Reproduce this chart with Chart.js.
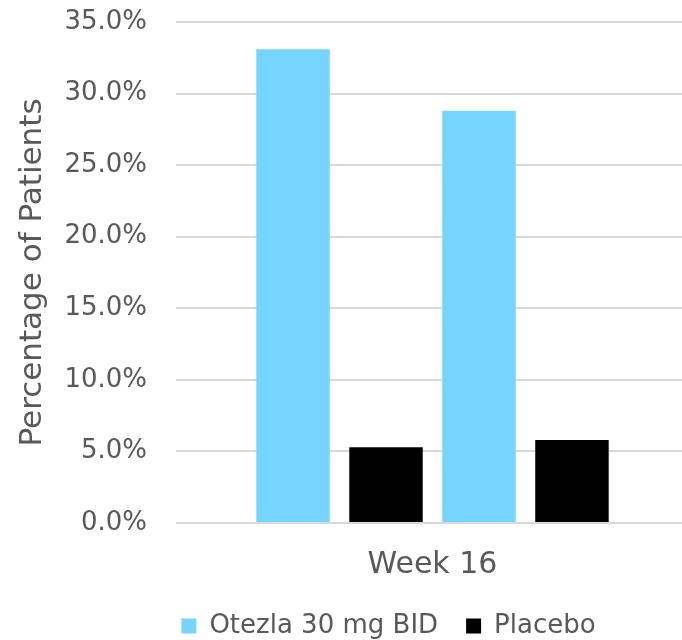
<!DOCTYPE html>
<html lang="en">
<head>
  <meta charset="UTF-8" />
  <title>Week 16 Response</title>
  <script src="https://cdn.jsdelivr.net/npm/chart.js"></script>
  <style>
    body {
      margin: 0;
      padding: 0;
      overflow: hidden;
      background: #fff;
    }

    /* slightly wider than the window so the plot runs off the right edge */
    .chart-container {
      width: 692px;
      height: 640px;
      position: relative;
    }
  </style>
</head>
<body>
  <div class="chart-container">
    <canvas id="responseChart"></canvas>
  </div>

  <script>
    const categories = ['Week 16'];
    const seriesNames = ['Otezla 30 mg BID', 'Placebo'];
    // one value per study, in percent
    const otezlaValues = [33.1, 28.8];
    const placeboValues = [5.3, 5.8];
    const yTicks = [0, 5, 10, 15, 20, 25, 30, 35];

    const textColor = '#595959';
    const fontFamily = '"DejaVu Sans", sans-serif';
    const seriesColors = ['#75d5fe', '#000000'];

    // Otezla / placebo pairs side by side, study after study
    const datasets = [];
    otezlaValues.forEach((v, i) => {
      datasets.push({
        label: seriesNames[0],
        data: [v],
        backgroundColor: seriesColors[0]
      });
      datasets.push({
        label: seriesNames[1],
        data: [placeboValues[i]],
        backgroundColor: seriesColors[1]
      });
    });

    // nudge the legend to the right of the canvas centre
    const legendShift = {
      id: 'legendShift',
      afterLayout(chart) {
        chart.legend.left += 39;
        chart.legend.right += 39;
      }
    };

    const ctx = document.getElementById('responseChart').getContext('2d');
    new Chart(ctx, {
      type: 'bar',
      data: { labels: categories, datasets },
      plugins: [legendShift],
      options: {
        responsive: true,
        maintainAspectRatio: false,
        animation: false,
        categoryPercentage: 0.725,
        barPercentage: 0.79,
        layout: { padding: { top: 22, right: 3, left: 10, bottom: -9 } },
        plugins: {
          tooltip: { enabled: false },
          legend: {
            position: 'bottom',
            labels: {
              color: textColor,
              font: { family: fontFamily, size: 26 },
              boxWidth: 15,
              boxHeight: 15,
              padding: 28,
              // one legend entry per series
              filter: (item) => item.datasetIndex < 2
            }
          }
        },
        scales: {
          x: {
            grid: { display: false },
            border: { display: false },
            ticks: {
              color: textColor,
              font: { family: fontFamily, size: 30 },
              padding: 16
            },
            afterFit: (axis) => { axis.height = 62; }
          },
          y: {
            min: 0,
            max: 35,
            afterBuildTicks: (axis) => {
              axis.ticks = yTicks.map(v => ({ value: v }));
            },
            afterFit: (axis) => {
              axis.width = 166;
              axis.paddingTop = 0;
              axis.paddingBottom = 0;
            },
            grid: { color: '#d9d9d9', lineWidth: 2, drawTicks: false },
            border: { display: false },
            ticks: {
              color: textColor,
              font: { family: fontFamily, size: 26 },
              padding: 29,
              callback: (v) => v.toFixed(1) + '%'
            },
            title: {
              display: true,
              text: 'Percentage of Patients',
              color: textColor,
              font: { family: fontFamily, size: 31 },
              padding: { top: 4, bottom: 8 }
            }
          }
        }
      }
    });
  </script>
</body>
</html>
